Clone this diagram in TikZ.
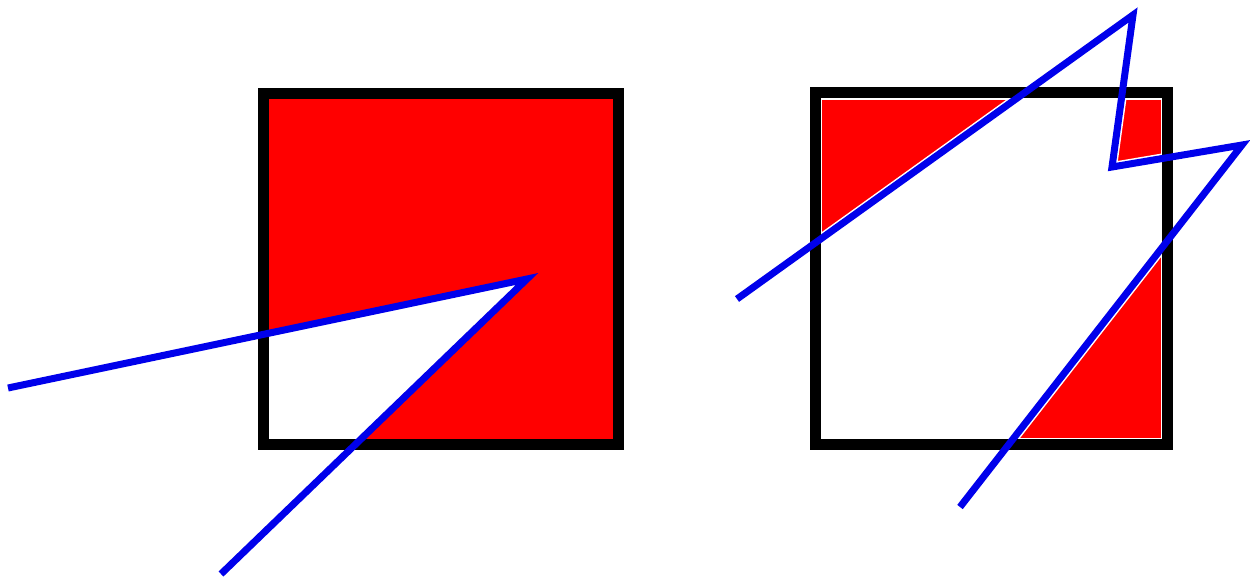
\documentclass[tikz,border=0pt]{standalone}
\definecolor{fillred}{RGB}{255,0,0}
\definecolor{lineblue}{RGB}{0,0,235}
\begin{document}
\begin{tikzpicture}[x=1pt,y=-1pt,
  blueline/.style={draw=lineblue,line width=7pt,line join=miter},
  frame/.style={draw=black,line width=11pt},
  halo/.style={draw=white,line width=10pt,line join=miter}]
\useasboundingbox[fill=white] (0,0) rectangle (1250,581);
% ---------- left square ----------
\coordinate (L1) at (8,388);
\coordinate (LV) at (527,279);
\coordinate (L2) at (221,574);
\coordinate (LA) at (263.5,93);
\coordinate (LB) at (618,444.5);
\begin{scope}
  \clip (LA) rectangle (LB);
  \fill[fillred] (LA) rectangle (LB);
  \fill[white] (L1) -- (LV) -- (L2) -- cycle;
\end{scope}
\draw[frame] (LA) rectangle (LB);
\draw[blueline] (L1) -- (LV) -- (L2);
% ---------- right square ----------
\coordinate (R1) at (737,299);
\coordinate (R2) at (1133,15);
\coordinate (R3) at (1112,167);
\coordinate (R4) at (1242,145);
\coordinate (R5) at (960,507);
\coordinate (RA) at (815,92.5);
\coordinate (RB) at (1167.5,444.5);
\coordinate (RIA) at (820.5,98);
\coordinate (RIB) at (1162,439);
\begin{scope}
  \clip (RIA) rectangle (RIB);
  \fill[fillred] (R1) -- (R2) -- (700,15) -- (700,299) -- cycle;
  \fill[fillred] (R2) -- (R3) -- (R4) -- (1250,15) -- cycle;
  \fill[fillred] (R4) -- (R5) -- (1250,507) -- cycle;
  \draw[white,line width=3pt] (RIA) rectangle (RIB);
  \draw[halo] (R1) -- (R2) -- (R3) -- (R4) -- (R5);
\end{scope}
\draw[frame] (RA) rectangle (RB);
\draw[blueline] (R1) -- (R2) -- (R3) -- (R4) -- (R5);
\end{tikzpicture}
\end{document}
